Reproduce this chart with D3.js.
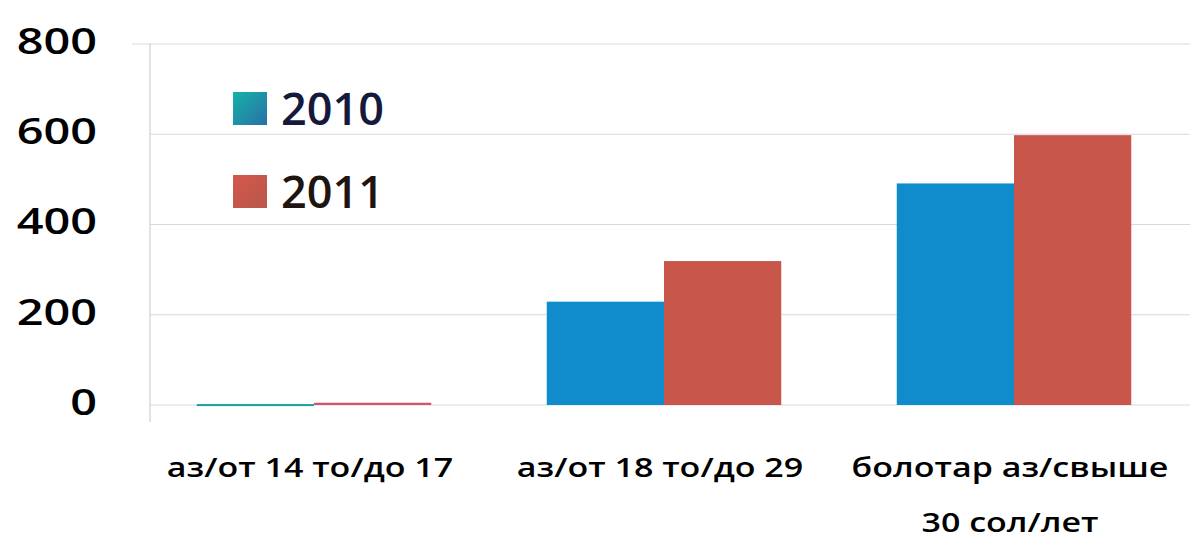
<!DOCTYPE html>
<html>
<head>
<meta charset="utf-8">
<script src="https://cdn.jsdelivr.net/npm/d3@7"></script>
<style>
  body { margin: 0; background: #fff; }
  text { font-family: "Open Sans", sans-serif; }
</style>
</head>
<body>
<div id="chart"></div>
<script>
// chart data
const categories = ["аз/от 14 то/до 17", "аз/от 18 то/до 29", "болотар аз/свыше|30 сол/лет"];
const seriesNames = ["2010", "2011"];
const values2010 = [2, 229, 491];
const values2011 = [5, 319, 598];
const yTicks = [0, 200, 400, 600, 800];

const W = 1193, H = 545;
const colors = { "2010": "#108ccd", "2011": "#c9564b" };

const svg = d3.select("#chart").append("svg")
    .attr("width", W)
    .attr("height", H);

// the source picture is stretched sideways, so widen text around its anchor
function stretch(sel, s) {
    sel.each(function() {
        const t = d3.select(this);
        const ax = +t.attr("x") || 0;
        t.attr("transform", `translate(${ax},0) scale(${s},1) translate(${-ax},0)`);
    });
}

const defs = svg.append("defs");
const g1 = defs.append("linearGradient").attr("id", "lg2010")
    .attr("x1", 0).attr("y1", 0).attr("x2", 1).attr("y2", 1);
g1.append("stop").attr("offset", "0%").attr("stop-color", "#14b3a8");
g1.append("stop").attr("offset", "100%").attr("stop-color", "#2a6fa6");
const g2 = defs.append("linearGradient").attr("id", "lg2011")
    .attr("x1", 0).attr("y1", 0).attr("x2", 1).attr("y2", 1);
g2.append("stop").attr("offset", "0%").attr("stop-color", "#d4584a");
g2.append("stop").attr("offset", "100%").attr("stop-color", "#b9564c");

// scales
const y = d3.scaleLinear().domain([0, 800]).range([405, 44]);

const x = d3.scaleBand()
    .domain(categories)
    .range([139, 1189])
    .paddingInner(0.33)
    .paddingOuter(0.165);

const x1 = d3.scaleBand()
    .domain(seriesNames)
    .range([0, x.bandwidth()]);

// gridlines
svg.append("g")
    .selectAll("line.grid")
    .data(yTicks.filter(d => d > 0))
    .enter()
    .append("line")
    .attr("class", "grid")
    .attr("x1", d => d === 800 ? 132 : 150)
    .attr("x2", 1190)
    .attr("y1", d => y(d))
    .attr("y2", d => y(d))
    .style("stroke", "#d8d8e2")
    .style("stroke-width", 1.2);

// y axis
const yAxis = svg.append("g")
    .attr("transform", "translate(150,0)")
    .call(d3.axisLeft(y).tickValues(yTicks).tickSize(0).tickPadding(53));
yAxis.select(".domain").remove();
yAxis.attr("font-family", null).attr("font-size", null);
yAxis.append("line")
    .attr("x1", 0).attr("x2", 0)
    .attr("y1", 44).attr("y2", 422)
    .style("stroke", "#cfcfda")
    .style("stroke-width", 1.2);
yAxis.selectAll(".tick text")
    .attr("fill", "#000")
    .attr("font-size", "36px")
    .attr("font-weight", 600)
    .attr("dy", "0.26em")
    .call(stretch, 1.3);

// baseline
svg.append("line")
    .attr("x1", 150).attr("x2", 1190)
    .attr("y1", y(0)).attr("y2", y(0))
    .style("stroke", "#d8d8e2")
    .style("stroke-width", 1.2);

// bars
const rows = categories.map((c, i) => ({
    cat: c,
    vals: [
        { key: "2010", value: values2010[i] },
        { key: "2011", value: values2011[i] }
    ]
}));

const groups = svg.selectAll("g.cat")
    .data(rows)
    .enter()
    .append("g")
    .attr("class", "cat")
    .attr("transform", d => `translate(${x(d.cat)},0)`);

groups.selectAll("rect")
    .data(d => d.vals)
    .enter()
    .append("rect")
    .attr("x", d => x1(d.key))
    .attr("width", x1.bandwidth())
    .attr("y", d => y(d.value))
    .attr("height", d => Math.max(2, y(0) - y(d.value)))
    .attr("fill", d => (d.value < 20 ? (d.key === "2010" ? "#1aa0a0" : "#d2566a") : colors[d.key]));

// category labels
groups.each(function(d) {
    const lines = d.cat.split("|");
    const t = d3.select(this).append("text")
        .attr("x", x.bandwidth() / 2 - 4)
        .attr("text-anchor", "middle")
        .attr("font-size", "27px")
        .attr("font-weight", 600)
        .attr("fill", "#000");
    lines.forEach((l, i) => {
        t.append("tspan")
            .attr("x", x.bandwidth() / 2 - 4)
            .attr("y", 477 + i * 55)
            .text(l);
    });
    stretch(t, 1.26);
});

// legend
const legend = svg.append("g").attr("class", "legend");
seriesNames.forEach((s, i) => {
    const ly = 92 + i * 83;
    legend.append("rect")
        .attr("x", 233)
        .attr("y", ly)
        .attr("width", 34)
        .attr("height", 33)
        .attr("fill", `url(#lg${s})`);
    legend.append("text")
        .attr("x", 281)
        .attr("y", ly + 33)
        .attr("font-size", "45px")
        .attr("font-weight", 600)
        .attr("fill", i === 0 ? "#151a3c" : "#1e1410")
        .text(s);
});
</script>
</body>
</html>
